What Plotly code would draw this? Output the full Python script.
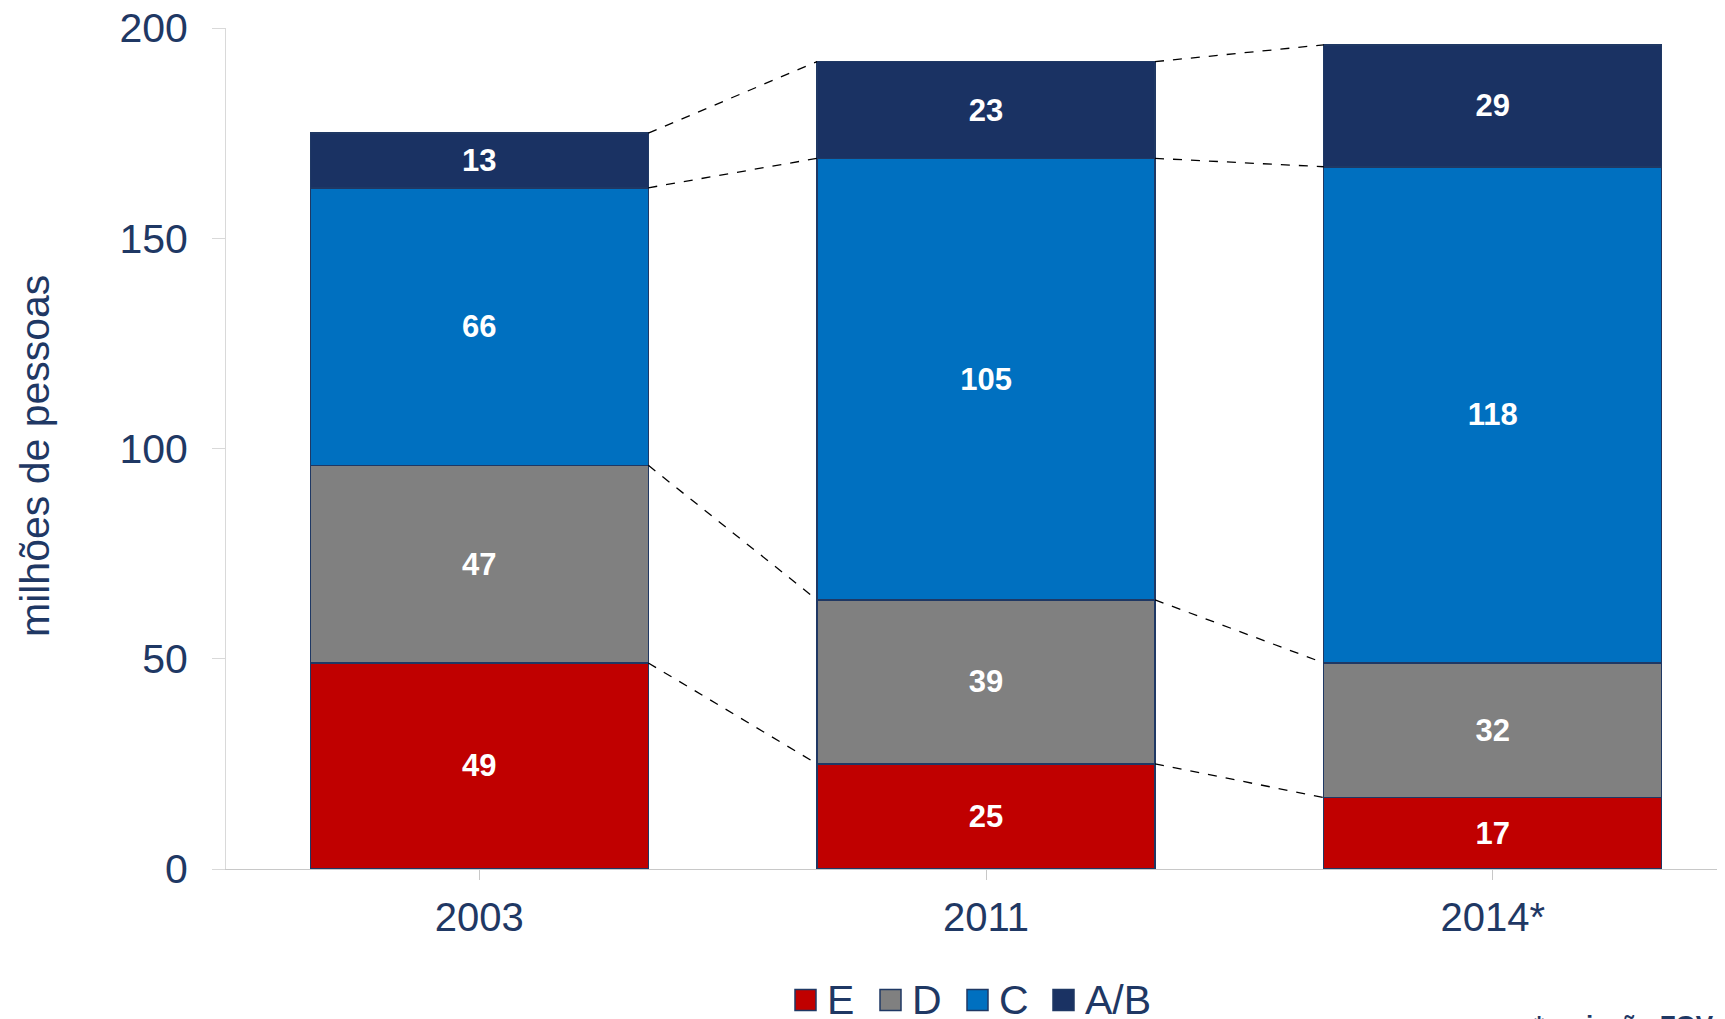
import numpy as np
import plotly.graph_objects as go

# data (milhões de pessoas por classe)
years = ["2003", "2011", "2014*"]
classes = ["E", "D", "C", "A/B"]
vals_E = [49, 25, 17]
vals_D = [47, 39, 32]
vals_C = [66, 105, 118]
vals_AB = [13, 23, 29]

colors = {"E": "#C00000", "D": "#808080", "C": "#0070C0", "A/B": "#1A3263"}
navy = "#1F3864"
font_fam = "Liberation Sans, Arial, sans-serif"
bar_w = 0.667

# geometry in page pixels; the page body adds an 8px offset to the figure
OFF = 8
W, H = 1725, 1019
L, T = 226 - OFF, 28 - OFF
B = H - (869 - OFF)
pw, ph = W - L, H - T - B


def px_x(px):
    return (px - OFF - L) / pw


def px_y(py):
    return (H - B - (py - OFF)) / ph


fig = go.Figure()

series = [vals_E, vals_D, vals_C, vals_AB]
for name, vals in zip(classes, series):
    fig.add_trace(go.Bar(
        x=list(range(len(years))), y=vals, name=name, width=bar_w,
        marker=dict(color=colors[name], line=dict(color=navy, width=1.5)),
        text=[str(v) for v in vals], textposition="inside",
        insidetextanchor="middle", textangle=0, constraintext="none",
        textfont=dict(color="white", size=31, family=font_fam, weight="bold"),
        showlegend=False,
    ))

# dashed connectors between stacked segment tops
tops = np.cumsum(np.array(series), axis=0)
for level in tops:
    for i in range(len(years) - 1):
        fig.add_trace(go.Scatter(
            x=[i + bar_w / 2, i + 1 - bar_w / 2], y=[level[i], level[i + 1]],
            mode="lines", line=dict(color="black", width=1.3, dash="dash"),
            showlegend=False, hoverinfo="skip",
        ))

# legend drawn by hand (bigger squares than plotly's legend allows)
leg_x = [795, 880, 967, 1053]
leg_y, sq = 1000, 21
for name, x0 in zip(classes, leg_x):
    fig.add_shape(
        type="rect", xref="paper", yref="paper",
        x0=px_x(x0), x1=px_x(x0 + sq), y0=px_y(leg_y + sq / 2), y1=px_y(leg_y - sq / 2),
        fillcolor=colors[name], line=dict(color=navy, width=1.5),
    )
    fig.add_annotation(
        text=name, xref="paper", yref="paper", x=px_x(x0 + sq + 9), y=px_y(leg_y),
        xanchor="left", yanchor="middle", showarrow=False,
        font=dict(size=41, color=navy, family=font_fam),
    )

# y-axis title
fig.add_annotation(
    text="milhões de pessoas", xref="paper", yref="paper",
    x=px_x(35), y=px_y(456), xanchor="center", yanchor="middle",
    textangle=-90, showarrow=False,
    font=dict(size=41, color=navy, family=font_fam),
)

fig.add_annotation(
    text="*projeção FGV", xref="paper", yref="paper", x=px_x(1716), y=px_y(1008),
    xanchor="right", yanchor="top", showarrow=False,
    font=dict(size=26, color=navy, family=font_fam, weight="bold"),
)

fig.update_layout(
    barmode="stack",
    width=W, height=H,
    margin=dict(l=L, r=0, t=T, b=B),
    plot_bgcolor="white", paper_bgcolor="white",
    font=dict(family=font_fam, color=navy),
    showlegend=False,
    xaxis=dict(
        range=[-0.5, -0.5 + (pw - OFF) / 504], tickvals=[0, 1, 2], ticktext=years,
        tickfont=dict(size=40, color=navy), showgrid=False, zeroline=False,
        showline=True, linecolor="#C8C8C8", linewidth=1,
        ticks="outside", tickson="boundaries", ticklen=10, tickcolor="#C8C8C8",
        ticklabelstandoff=3, automargin=False,
    ),
    yaxis=dict(
        range=[0, 200], tickvals=[0, 50, 100, 150, 200],
        tickfont=dict(size=41, color=navy), showgrid=False, zeroline=False,
        showline=True, linecolor="#D9D9D9", linewidth=1,
        ticks="outside", ticklen=13, tickcolor="#D9D9D9", ticklabelstandoff=16,
        ticklabeloverflow="allow", automargin=False,
    ),
)

fig.write_html("out.html")
